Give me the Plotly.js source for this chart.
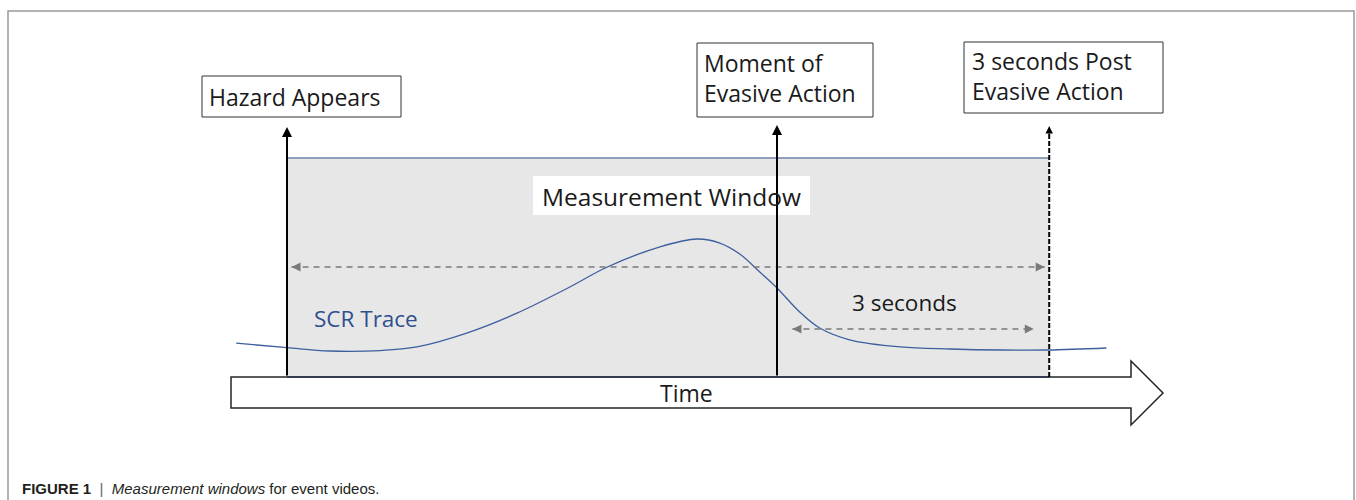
<!DOCTYPE html>
<html>
<head>
<meta charset="utf-8">
<script src="https://cdn.plot.ly/plotly-3.0.1.min.js"></script>
<style>html,body{margin:0;padding:0;background:#fff;}#chart{width:1356px;height:500px;}</style>
</head>
<body>
<div id="chart"></div>
<script>
// ---- data (time in seconds, SCR level in arbitrary units) ----
const eventTimes = [0, 5.4, 8.4];
const eventLabels = ['Hazard Appears', 'Moment of<br>Evasive Action', '3 seconds Post<br>Evasive Action'];
const scrTime  = [-0.56, 0, 0.47, 1.03, 1.43, 1.98, 2.54, 3.09, 3.53, 4.11, 4.52, 4.77, 4.99, 5.21, 5.4, 5.65, 5.87, 6.2, 6.76, 7.31, 7.86, 8.39, 9.03];
const scrLevel = [0.07, 0.03, 0.0, 0.004, 0.036, 0.16, 0.34, 0.56, 0.75, 0.93, 1.0, 0.964, 0.866, 0.705, 0.563, 0.348, 0.205, 0.1, 0.036, 0.018, 0.009, 0.009, 0.027];
const windowLabel = 'Measurement Window';
const postLabel = '3 seconds';
const traceLabel = 'SCR Trace';
const axisLabel = 'Time';
const caption = '<b>FIGURE 1</b>  <span style="color:#666">|</span>  <i>Measurement windows</i> for event videos.';

// ---- layout geometry ----
const W = 1356, H = 500;
const pxPerSec = 90.74, x0px = 287, yBasePx = 351, pxPerUnit = 112;
const px = v => v / W;
const py = v => 1 - v / H;
const FONT = 'Open Sans, Noto Sans, sans-serif';
const TXT = '#1a1a1a';

const shapes = [];
const annotations = [];

// outer frame
shapes.push({type:'path', xref:'paper', yref:'paper',
  path:`M ${px(8)},${py(500)} L ${px(8)},${py(11)} L ${px(1354)},${py(11)} L ${px(1354)},${py(500)}`,
  line:{color:'#9a9a9a', width:1.5}});

// measurement window (grey area)
shapes.push({type:'rect', xref:'x', yref:'paper', x0:eventTimes[0], x1:eventTimes[2], y0:py(377), y1:py(158),
  fillcolor:'#e7e7e7', line:{width:0}, layer:'below'});
shapes.push({type:'line', xref:'x', yref:'paper', x0:eventTimes[0], x1:eventTimes[2], y0:py(158), y1:py(158),
  line:{color:'#6f82a6', width:1.3}, layer:'below'});

// time arrow
const ap = [[231,377],[1131,377],[1131,361],[1163,393],[1131,425],[1131,408],[231,408]];
shapes.push({type:'path', xref:'paper', yref:'paper',
  path: 'M ' + ap.map(p => `${px(p[0])},${py(p[1])}`).join(' L ') + ' Z',
  fillcolor:'#ffffff', line:{color:'#262626', width:1.5}, layer:'below'});
shapes.push({type:'line', xref:'x', yref:'paper', x0:eventTimes[0], x1:eventTimes[2], y0:py(377), y1:py(377),
  line:{color:'#2a3350', width:1.5}});

// measurement window label box
shapes.push({type:'rect', xref:'paper', yref:'paper', x0:px(533), x1:px(810), y0:py(215), y1:py(176),
  fillcolor:'#ffffff', line:{width:0}});

// event lines
const tipY = [127, 125, 126];
eventTimes.forEach((t, i) => {
  if (i < 2) {
    annotations.push({xref:'x', yref:'paper', x:t, y:py(tipY[i]), ax:0, ay:377 - tipY[i], axref:'pixel', ayref:'pixel',
      text:'', showarrow:true, arrowhead:2, arrowsize:1, arrowwidth:2, arrowcolor:'#000'});
  } else {
    shapes.push({type:'line', xref:'x', yref:'paper', x0:t, x1:t, y0:py(377), y1:py(134),
      line:{color:'#000', width:2, dash:'5px,2px'}});
    annotations.push({xref:'x', yref:'paper', x:t, y:py(tipY[i]), ax:0, ay:9,
      text:'', showarrow:true, arrowhead:2, arrowsize:1, arrowwidth:1.5, arrowcolor:'#000'});
  }
});

// label boxes
const boxes = [[202,401,76,117,207,97],[697,873,43,117,702,78],[964,1163,42,113,970,76]];
boxes.forEach((b, i) => {
  shapes.push({type:'rect', xref:'paper', yref:'paper', x0:px(b[0]), x1:px(b[1]), y0:py(b[3]), y1:py(b[2]),
    fillcolor:'#ffffff', line:{color:'#333', width:1}});
  annotations.push({xref:'paper', yref:'paper', x:px(b[4]), y:py(b[5]), xanchor:'left', yanchor:'middle', align:'left',
    text:eventLabels[i], showarrow:false, font:{family:FONT, size:23, color:TXT}});
});

// dashed double arrows
function dashedArrow(t0, t1, yp) {
  shapes.push({type:'line', xref:'x', yref:'paper', x0:t0, x1:t1, y0:py(yp), y1:py(yp),
    line:{color:'#7a7a7a', width:1.5, dash:'6px,5px'}});
  annotations.push({xref:'x', yref:'paper', x:t0, y:py(yp), ax:9, ay:0, text:'', showarrow:true,
    arrowhead:2, arrowsize:1.2, arrowwidth:1.5, arrowcolor:'#7a7a7a'});
  annotations.push({xref:'x', yref:'paper', x:t1, y:py(yp), ax:-9, ay:0, text:'', showarrow:true,
    arrowhead:2, arrowsize:1.2, arrowwidth:1.5, arrowcolor:'#7a7a7a'});
}
dashedArrow(eventTimes[0] + 0.05, eventTimes[2] - 0.05, 267);
dashedArrow(eventTimes[1] + 0.17, eventTimes[2] - 0.17, 329);

// texts
function label(text, x, y, size, color, xanchor) {
  annotations.push({xref:'paper', yref:'paper', x:px(x), y:py(y), xanchor:xanchor || 'center', yanchor:'middle',
    text:text, showarrow:false, font:{family:FONT, size:size, color:color}});
}
label(windowLabel, 671, 196, 24.5, TXT);
label(postLabel, 904, 302, 22.5, TXT);
label(traceLabel, 312, 318, 22.5, '#2f4f8f', 'left');
label(axisLabel, 687, 393, 23, TXT);
annotations.push({xref:'paper', yref:'paper', x:px(20), y:py(488), xanchor:'left', yanchor:'middle', text:caption, showarrow:false,
  font:{family:'Liberation Sans, Arial, sans-serif', size:15, color:'#231f20'}});

const trace = {
  x: scrTime, y: scrLevel, type:'scatter', mode:'lines',
  line:{color:'#3d5f9e', width:1.3, shape:'spline', smoothing:1},
  hoverinfo:'skip', showlegend:false
};

const layout = {
  width: W, height: H,
  margin:{l:0, r:0, t:0, b:0},
  paper_bgcolor:'#ffffff', plot_bgcolor:'rgba(0,0,0,0)',
  xaxis:{range:[(0 - x0px) / pxPerSec, (W - x0px) / pxPerSec], visible:false, fixedrange:true},
  yaxis:{range:[(yBasePx - H) / pxPerUnit, yBasePx / pxPerUnit], visible:false, fixedrange:true},
  shapes: shapes,
  annotations: annotations,
  showlegend:false
};

Plotly.newPlot('chart', [trace], layout, {displayModeBar:false, staticPlot:true});
</script>
</body>
</html>
